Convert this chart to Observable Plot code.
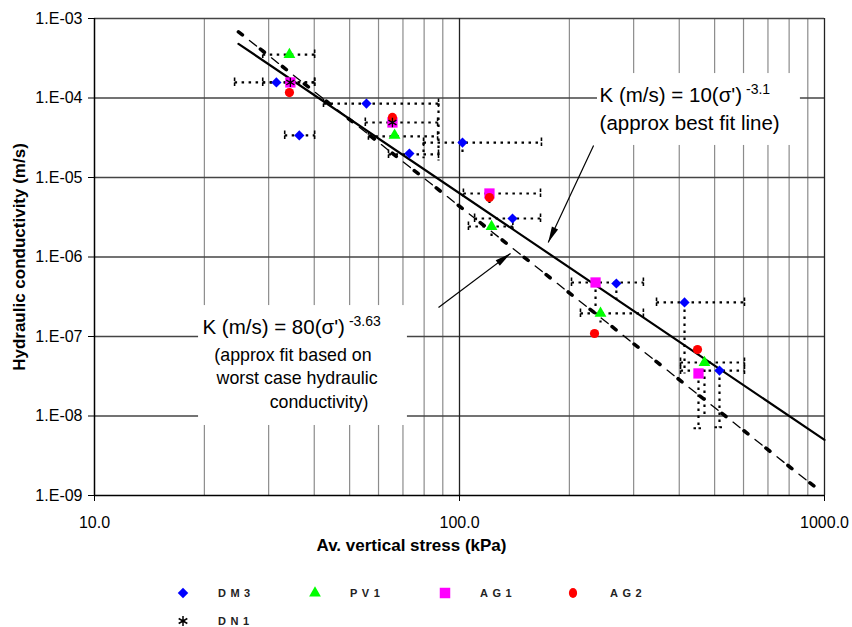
<!DOCTYPE html>
<html><head><meta charset="utf-8">
<script src="https://cdn.jsdelivr.net/npm/d3@7"></script>
<script src="https://cdn.jsdelivr.net/npm/@observablehq/plot@0.6"></script>
<style>
body{margin:0;background:#fff;}
#wrap{position:relative;width:852px;height:627px;overflow:hidden;background:#fff;font-family:"Liberation Sans",Arial,sans-serif;}
#wrap svg{display:block;}
</style></head><body><div id="wrap"></div>
<script>
// ---------- axes / ticks ----------
const xTicks = [10, 100, 1000];
const xTickLabels = ["10.0", "100.0", "1000.0"];
const yTicks = [1e-9, 1e-8, 1e-7, 1e-6, 1e-5, 1e-4, 1e-3];
const yTickLabels = ["1.E-09", "1.E-08", "1.E-07", "1.E-06", "1.E-05", "1.E-04", "1.E-03"];
const minorGridX = [20, 30, 40, 50, 60, 70, 80, 90, 200, 300, 400, 500, 600, 700, 800, 900];
const majorGridX = [100, 1000];
const gridY = [1e-8, 1e-7, 1e-6, 1e-5, 1e-4, 1e-3];
const yTitle = "Hydraulic conductivity (m/s)";
const xTitle = "Av. vertical stress (kPa)";

// ---------- series (stress kPa, K m/s) ----------
const seriesNames = ["DM3", "PV1", "AG1", "AG2", "DN1"];
const dm3X = [31.5, 36.4, 55.6, 72.9, 101.9, 139.7, 269, 413.5, 515.6];
const dm3Y = [1.57e-4, 3.38e-5, 8.5e-5, 2.0e-5, 2.75e-5, 3.05e-6, 4.64e-7, 2.68e-7, 3.73e-8];
const pv1X = [34.2, 66.4, 122.4, 243.4, 469];
const pv1Y = [3.52e-4, 3.38e-5, 2.42e-6, 1.95e-7, 4.71e-8];
const ag1X = [34.4, 65.5, 120.8, 235.9, 451.6];
const ag1Y = [1.57e-4, 4.92e-5, 6.29e-6, 4.78e-7, 3.43e-8];
const ag2X = [34.2, 65.5, 120.8, 234.4, 448.8];
const ag2Y = [1.17e-4, 5.69e-5, 5.6e-6, 1.09e-7, 6.86e-8];
const dn1X = [34.4, 65.5];
const dn1Y = [1.57e-4, 4.92e-5];

// ---------- range bars (dotted) ----------
const hBarY  = [3.52e-4, 1.57e-4, 1.57e-4, 3.38e-5, 8.5e-5, 4.92e-5, 3.3e-5, 1.95e-5, 2.75e-5, 6.29e-6, 3.05e-6, 2.42e-6, 4.78e-7, 1.95e-7, 2.68e-7, 3.73e-8, 4.71e-8];
const hBarX1 = [28.9, 24.2, 28.9, 33.2, 42.4, 55.2, 56.3, 63.9, 79.7, 102.5, 110, 105.8, 202.7, 214.5, 346.6, 403.3, 403.3];
const hBarX2 = [40.1, 40.1, 40.1, 40.1, 87.6, 87.1, 87.1, 87.6, 167.7, 166.7, 166.7, 140, 319, 319, 603.6, 603.6, 603.6];
const vBarX  = [87.6, 79.7, 101.9, 120.8, 122.4, 235.9, 243.4, 269, 413.5, 451.6, 469, 515.6];
const vBarY1 = [8.5e-5, 2.75e-5, 2.75e-5, 6.29e-6, 2.42e-6, 4.78e-7, 1.95e-7, 4.64e-7, 2.68e-7, 3.43e-8, 4.71e-8, 3.73e-8];
const vBarY2 = [1.64e-5, 1.75e-5, 1.9e-5, 4.5e-6, 1.76e-6, 2.32e-7, 1.5e-7, 2.8e-7, 3.43e-8, 7.0e-9, 9.6e-9, 7.2e-9];

// ---------- fit lines (end points) ----------
const fitBestX = [24.8, 1000];
const fitBestY = [4.8e-4, 5.0e-9];
const fitWorstX = [24.8, 960];
const fitWorstY = [6.8e-4, 1.2e-9];

// ---------- annotations ----------
const arrowX1 = [233, 87.6], arrowY1 = [2.53e-5, 2.32e-7];
const arrowX2 = [175, 138],  arrowY2 = [1.52e-6, 1.11e-6];
const noteUpper = [
  {text: "K (m/s) = 10(σ')", sup: "-3.1", x: 242, y: 1.075e-4},
  {text: "(approx best fit line)", x: 242, y: 4.78e-5}
];
const noteLowerK = [{text: "K (m/s) = 80(σ')", sup: "-3.63", x: 19.76, y: 1.3e-7}];
const noteLower = [
  {text: "(approx fit based on", x: 21.3, y: 5.77e-8},
  {text: "worst case hydraulic", x: 21.6, y: 2.96e-8},
  {text: "conductivity)", x: 30.2, y: 1.48e-8}
];
const noteBoxes = [
  {x1: 238.8, x2: 859, y1: 2.03e-4, y2: 2.53e-5},
  {x1: 19.28, x2: 72.0, y1: 2.45e-7, y2: 7.6e-9}
];

// ---------- build tables ----------
const zip = (xs, ys) => xs.map((x, i) => ({x, y: ys[i]}));
const dm3 = zip(dm3X, dm3Y), pv1 = zip(pv1X, pv1Y), ag1 = zip(ag1X, ag1Y), ag2 = zip(ag2X, ag2Y), dn1 = zip(dn1X, dn1Y);
const hBars = hBarY.map((y, i) => ({y, x1: hBarX1[i], x2: hBarX2[i]}));
const hCaps = hBars.flatMap(b => [{x: b.x1, y: b.y}, {x: b.x2, y: b.y}]);
const vBars = vBarX.map((x, i) => ({x, y1: vBarY1[i], y2: vBarY2[i]}));
const vCaps = vBars.filter(b => b.y2 < 8e-9).map(b => ({x: b.x, y: b.y2}));
const fitBest = zip(fitBestX, fitBestY), fitWorst = zip(fitWorstX, fitWorstY);
const arrows = arrowX1.map((x1, i) => ({x1, y1: arrowY1[i], x2: arrowX2[i], y2: arrowY2[i]}));

const vCapSym = {draw(ctx, size) { const h = Math.sqrt(size / Math.PI); ctx.moveTo(0, -h); ctx.lineTo(0, h); }};
const hCapSym = {draw(ctx, size) { const h = Math.sqrt(size / Math.PI); ctx.moveTo(-h, 0); ctx.lineTo(h, 0); }};

function arrowHead(color) {
  const m = d3.create("svg:marker")
    .attr("viewBox", "-17 -4 18 8")
    .attr("markerWidth", 18).attr("markerHeight", 8)
    .attr("markerUnits", "userSpaceOnUse")
    .attr("orient", "auto")
    .attr("fill", color).attr("stroke", "none");
  m.append("path").attr("d", "M-16,-3.4L0,0L-16,3.4Z");
  return m.node();
}

const dotted = {stroke: "black", strokeWidth: 2.2, strokeDasharray: "2.5,4.5"};

const chart = Plot.plot({
  width: 852, height: 560,
  marginLeft: 94, marginRight: 28, marginTop: 18, marginBottom: 65,
  style: {fontFamily: "'Liberation Sans', Arial, sans-serif", fontSize: "16px", background: "white", color: "black", overflow: "visible"},
  x: {type: "log", domain: [10, 1000], ticks: xTicks, tickFormat: (d) => xTickLabels[xTicks.indexOf(d)], tickSize: 6, tickPadding: 15, label: null},
  y: {type: "log", domain: [1e-9, 1e-3], ticks: yTicks, tickFormat: (d) => yTickLabels[yTicks.findIndex(t => Math.abs(Math.log10(t) - Math.log10(d)) < 1e-6)], tickSize: 6, tickPadding: 6, label: null},
  marks: [
    Plot.ruleX(minorGridX, {stroke: "#8c8c8c", strokeWidth: 1.2}),
    Plot.ruleY(gridY, {stroke: "#444", strokeWidth: 1.3}),
    Plot.ruleX(majorGridX, {stroke: "#222", strokeWidth: 1.3}),
    Plot.rect(noteBoxes, {x1: "x1", x2: "x2", y1: "y1", y2: "y2", fill: "white"}),
    Plot.ruleX([10], {stroke: "black", strokeWidth: 1.5}),
    Plot.ruleY([1e-9], {stroke: "black", strokeWidth: 1.5}),
    // fit lines
    Plot.line(fitWorst, {x: "x", y: "y", stroke: "black", strokeWidth: 3.6, strokeDasharray: "5,23"}),
    Plot.line(fitWorst, {x: "x", y: "y", stroke: "black", strokeWidth: 1.3, strokeDasharray: "9,19", strokeDashoffset: -14}),
    Plot.line(fitBest, {x: "x", y: "y", stroke: "black", strokeWidth: 2.2}),
    // range bars
    Plot.link(hBars, {x1: "x1", x2: "x2", y1: "y", y2: "y", ...dotted}),
    Plot.link(vBars, {x1: "x", x2: "x", y1: "y1", y2: "y2", ...dotted}),
    Plot.dot(hCaps, {x: "x", y: "y", symbol: vCapSym, r: 5, fill: "none", stroke: "black", strokeWidth: 1.6, strokeDasharray: "3.5,1.5"}),
    Plot.dot(vCaps, {x: "x", y: "y", symbol: hCapSym, r: 5, fill: "none", stroke: "black", strokeWidth: 2, strokeDasharray: "2.5,2.5"}),
    // series
    Plot.dot(dm3, {x: "x", y: "y", symbol: "diamond2", r: 4.6, fill: "#0000ff", stroke: "none"}),
    Plot.dot(pv1, {x: "x", y: "y", symbol: "triangle", r: 4.4, fill: "#00ff00", stroke: "none"}),
    Plot.dot(ag1, {x: "x", y: "y", symbol: "square", r: 5.8, fill: "#ff00ff", stroke: "none"}),
    Plot.dot(ag2, {x: "x", y: "y", symbol: "circle", r: 4.6, fill: "#ff0000", stroke: "none"}),
    Plot.dot(dn1, {x: "x", y: "y", symbol: "asterisk", r: 4.4, fill: "none", stroke: "black", strokeWidth: 1.3}),
    // arrows
    Plot.link(arrows, {x1: "x1", y1: "y1", x2: "x2", y2: "y2", stroke: "black", strokeWidth: 1.2, markerEnd: arrowHead}),
    // annotations
    Plot.text(noteUpper, {x: "x", y: "y", text: "text", textAnchor: "start", lineAnchor: "middle", fontSize: 20.5, fill: "black"}),
    Plot.text(noteLowerK, {x: "x", y: "y", text: "text", textAnchor: "start", lineAnchor: "middle", fontSize: 20.5, fill: "black"}),
    Plot.text(noteLower, {x: "x", y: "y", text: "text", textAnchor: "start", lineAnchor: "middle", fontSize: 17.8, fill: "black"}),
    // axis titles
    Plot.text([yTitle], {frameAnchor: "middle", textAnchor: "middle", lineAnchor: "middle", dx: -440, rotate: -90, fontWeight: "bold", fontSize: 17, fill: "black"}),
    Plot.text([xTitle], {frameAnchor: "bottom", textAnchor: "middle", lineAnchor: "middle", dx: -48, dy: 50, fontWeight: "bold", fontSize: 17, fill: "black"})
  ]
});

// superscripts and explicit centring of the titles
const supByText = new Map([...noteUpper, ...noteLowerK].filter(d => d.sup).map(d => [d.text, d.sup]));
chart.querySelectorAll("text").forEach(t => {
  const s = supByText.get(t.textContent);
  if (s) {
    const ts = document.createElementNS("http://www.w3.org/2000/svg", "tspan");
    ts.setAttribute("dx", "4"); ts.setAttribute("dy", "-0.6em"); ts.setAttribute("font-size", "14px");
    ts.textContent = s;
    t.appendChild(ts);
  }
  if (t.textContent === yTitle || t.textContent === xTitle) {
    t.setAttribute("text-anchor", "middle");
    t.style.textAnchor = "middle";
  }
});

const wrap = document.getElementById("wrap");
wrap.appendChild(chart);

// ---------- legend ----------
const legendItems = [
  {name: seriesNames[0], sym: d3.symbolDiamond2, fill: "#0000ff", mx: 183, tx: 218, row: 0, size: 70},
  {name: seriesNames[1], sym: d3.symbolTriangle, fill: "#00ff00", mx: 315, tx: 350, row: 0, size: 60},
  {name: seriesNames[2], sym: d3.symbolSquare, fill: "#ff00ff", mx: 445, tx: 480, row: 0, size: 110},
  {name: seriesNames[3], sym: d3.symbolCircle, fill: "#ff0000", mx: 573, tx: 610, row: 0, size: 65},
  {name: seriesNames[4], sym: d3.symbolAsterisk, fill: "none", stroke: "black", mx: 183, tx: 218, row: 1, size: 70}
];
const leg = d3.select(wrap).append("svg").attr("width", 852).attr("height", 67)
  .style("position", "absolute").style("left", "0px").style("top", "560px");
const rowY = [33, 61];
legendItems.forEach(d => {
  leg.append("path").attr("d", d3.symbol(d.sym, d.size)())
    .attr("transform", `translate(${d.mx},${rowY[d.row]})${d.name === "AG2" ? " scale(0.9,1.1)" : ""}`)
    .attr("fill", d.fill).attr("stroke", d.stroke || "none").attr("stroke-width", 1.5);
  leg.append("text").attr("x", d.tx).attr("y", rowY[d.row]).attr("dy", "0.35em")
    .attr("font-family", "'Liberation Sans', Arial, sans-serif").attr("font-size", 11).attr("font-weight", "bold")
    .attr("letter-spacing", "4.5px").attr("fill", "#222").text(d.name);
});
</script></body></html>
